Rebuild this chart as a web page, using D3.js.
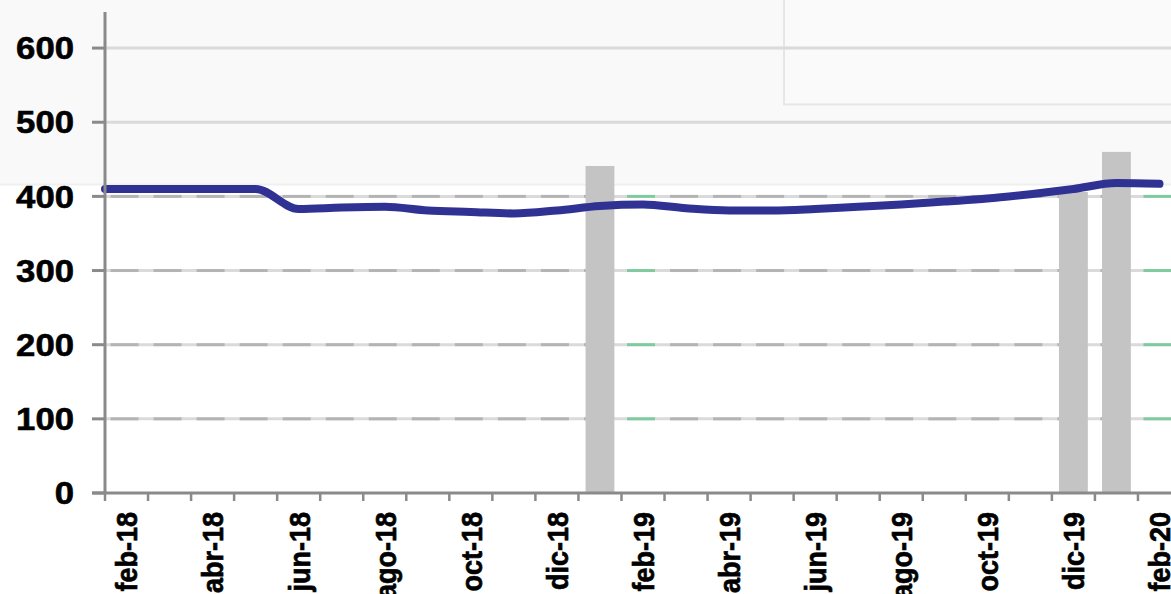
<!DOCTYPE html>
<html>
<head>
<meta charset="utf-8">
<script src="https://cdn.jsdelivr.net/npm/d3@7"></script>
<style>
  html, body { margin: 0; padding: 0; background: #fff; overflow: hidden; }
  text { font-family: "Liberation Sans", Arial, sans-serif; font-weight: bold; fill: #000; stroke: #000; stroke-width: 0.6px; }
</style>
</head>
<body>
<div id="chartContainer"></div>
<script>
// Chart size and plot box
const width = 1171;
const height = 594;
const margin = { top: 11, left: 105, bottom: 101 };
const plotRight = 1181; // plot runs a bit past the picture edge

// Months on the category axis
const months = ["feb-18", "mar-18", "abr-18", "may-18", "jun-18", "jul-18", "ago-18", "sep-18",
  "oct-18", "nov-18", "dic-18", "ene-19", "feb-19", "mar-19", "abr-19", "may-19", "jun-19",
  "jul-19", "ago-19", "sep-19", "oct-19", "nov-19", "dic-19", "ene-20", "feb-20"];

// Blue line values
const lineValues = [410, 410, 410, 410, 383, 385, 386, 381, 379, 377, 381, 387, 389, 384,
  381, 381, 383, 386, 389, 393, 397, 403, 410, 418, 417];

// Gray bars (only a few months have one)
const barMonths = ["ene-19", "dic-19", "ene-20"];
const barValues = [441, 406, 460];

// Axis ticks
const yTicks = [0, 100, 200, 300, 400, 500, 600];
const dashedLevels = [100, 200, 300, 400];
const greenMonths = ["feb-19", "feb-20"];

const svg = d3.select("#chartContainer")
  .append("svg")
  .attr("width", width)
  .attr("height", height);

const x = d3.scaleBand()
  .domain(months)
  .range([margin.left, plotRight])
  .paddingInner(0.33)
  .paddingOuter(0.165);

const y = d3.scaleLinear()
  .domain([0, 650])
  .range([height - margin.bottom, margin.top]);

const step = x.step();
const cx = m => x(m) + x.bandwidth() / 2;

// Light gray band at top and empty legend box
svg.append("rect")
  .attr("x", 0).attr("y", 0)
  .attr("width", width).attr("height", y(416))
  .attr("fill", "#f9f9f9");
svg.append("line")
  .attr("x1", 0).attr("x2", width)
  .attr("y1", y(416)).attr("y2", y(416))
  .attr("stroke", "#efefef").attr("stroke-width", 2);
svg.append("rect")
  .attr("x", 784).attr("y", -2)
  .attr("width", 400).attr("height", y(524) + 2)
  .attr("fill", "#fafafa")
  .attr("stroke", "#e6e6e6").attr("stroke-width", 2);

// Solid gridlines
svg.append("g")
  .selectAll("line")
  .data(yTicks.filter(d => d > 0))
  .enter()
  .append("line")
  .attr("x1", margin.left).attr("x2", plotRight)
  .attr("y1", d => y(d)).attr("y2", d => y(d))
  .attr("stroke", "#dadada")
  .attr("stroke-width", 3);

// Dash per month on the lower gridlines
const dashData = [];
dashedLevels.forEach(v => months.forEach(m => dashData.push({ v, m })));
svg.append("g")
  .selectAll("line")
  .data(dashData)
  .enter()
  .append("line")
  .attr("x1", d => cx(d.m) - 16).attr("x2", d => cx(d.m) + 12)
  .attr("y1", d => y(d.v)).attr("y2", d => y(d.v))
  .attr("stroke", d => greenMonths.includes(d.m) ? "#7fcb9f" : "#b4b4b4")
  .attr("stroke-width", 3);

// Bars
svg.append("g")
  .selectAll("rect")
  .data(barMonths.map((m, i) => ({ m, v: barValues[i] })))
  .enter()
  .append("rect")
  .attr("x", d => x(d.m))
  .attr("y", d => y(d.v))
  .attr("width", x.bandwidth())
  .attr("height", d => y(0) - y(d.v))
  .attr("fill", "#c4c4c4");

// Blue line, starting at the left axis
const pts = [[margin.left, y(lineValues[0])]].concat(months.map((m, i) => [cx(m), y(lineValues[i])]));
svg.append("path")
  .attr("d", d3.line().curve(d3.curveMonotoneX)(pts))
  .attr("fill", "none")
  .attr("stroke", "#2f3193")
  .attr("stroke-width", 8)
  .attr("stroke-linecap", "round")
  .attr("stroke-linejoin", "round");

// Axes
const axisColor = "#8a8a8a";
svg.append("line")
  .attr("x1", margin.left).attr("x2", margin.left)
  .attr("y1", margin.top + 1).attr("y2", y(0))
  .attr("stroke", axisColor).attr("stroke-width", 3);
svg.append("line")
  .attr("x1", margin.left - 13).attr("x2", plotRight)
  .attr("y1", y(0)).attr("y2", y(0))
  .attr("stroke", axisColor).attr("stroke-width", 3);

// Y ticks and labels
svg.append("g")
  .selectAll("line")
  .data(yTicks)
  .enter()
  .append("line")
  .attr("x1", margin.left - 13).attr("x2", margin.left)
  .attr("y1", d => y(d)).attr("y2", d => y(d))
  .attr("stroke", axisColor).attr("stroke-width", 3);
svg.append("g")
  .selectAll("text")
  .data(yTicks)
  .enter()
  .append("text")
  .attr("transform", d => `translate(74, ${y(d)}) scale(1.12, 1)`)
  .attr("text-anchor", "end")
  .attr("dy", "0.36em")
  .style("font-size", "31px")
  .text(d => d);

// X ticks between months and labels every other month
svg.append("g")
  .selectAll("line")
  .data(d3.range(months.length + 1))
  .enter()
  .append("line")
  .attr("x1", i => margin.left + i * step).attr("x2", i => margin.left + i * step)
  .attr("y1", y(0)).attr("y2", y(0) + 8)
  .attr("stroke", axisColor).attr("stroke-width", 2.5);
svg.append("g")
  .selectAll("text")
  .data(months.filter((m, i) => i % 2 === 0))
  .enter()
  .append("text")
  .attr("transform", m => `translate(${cx(m)}, 512) scale(1.12, 1) rotate(-90)`)
  .attr("text-anchor", "end")
  .attr("dy", "0.36em")
  .style("font-size", "27px")
  .text(m => m);
</script>
</body>
</html>
